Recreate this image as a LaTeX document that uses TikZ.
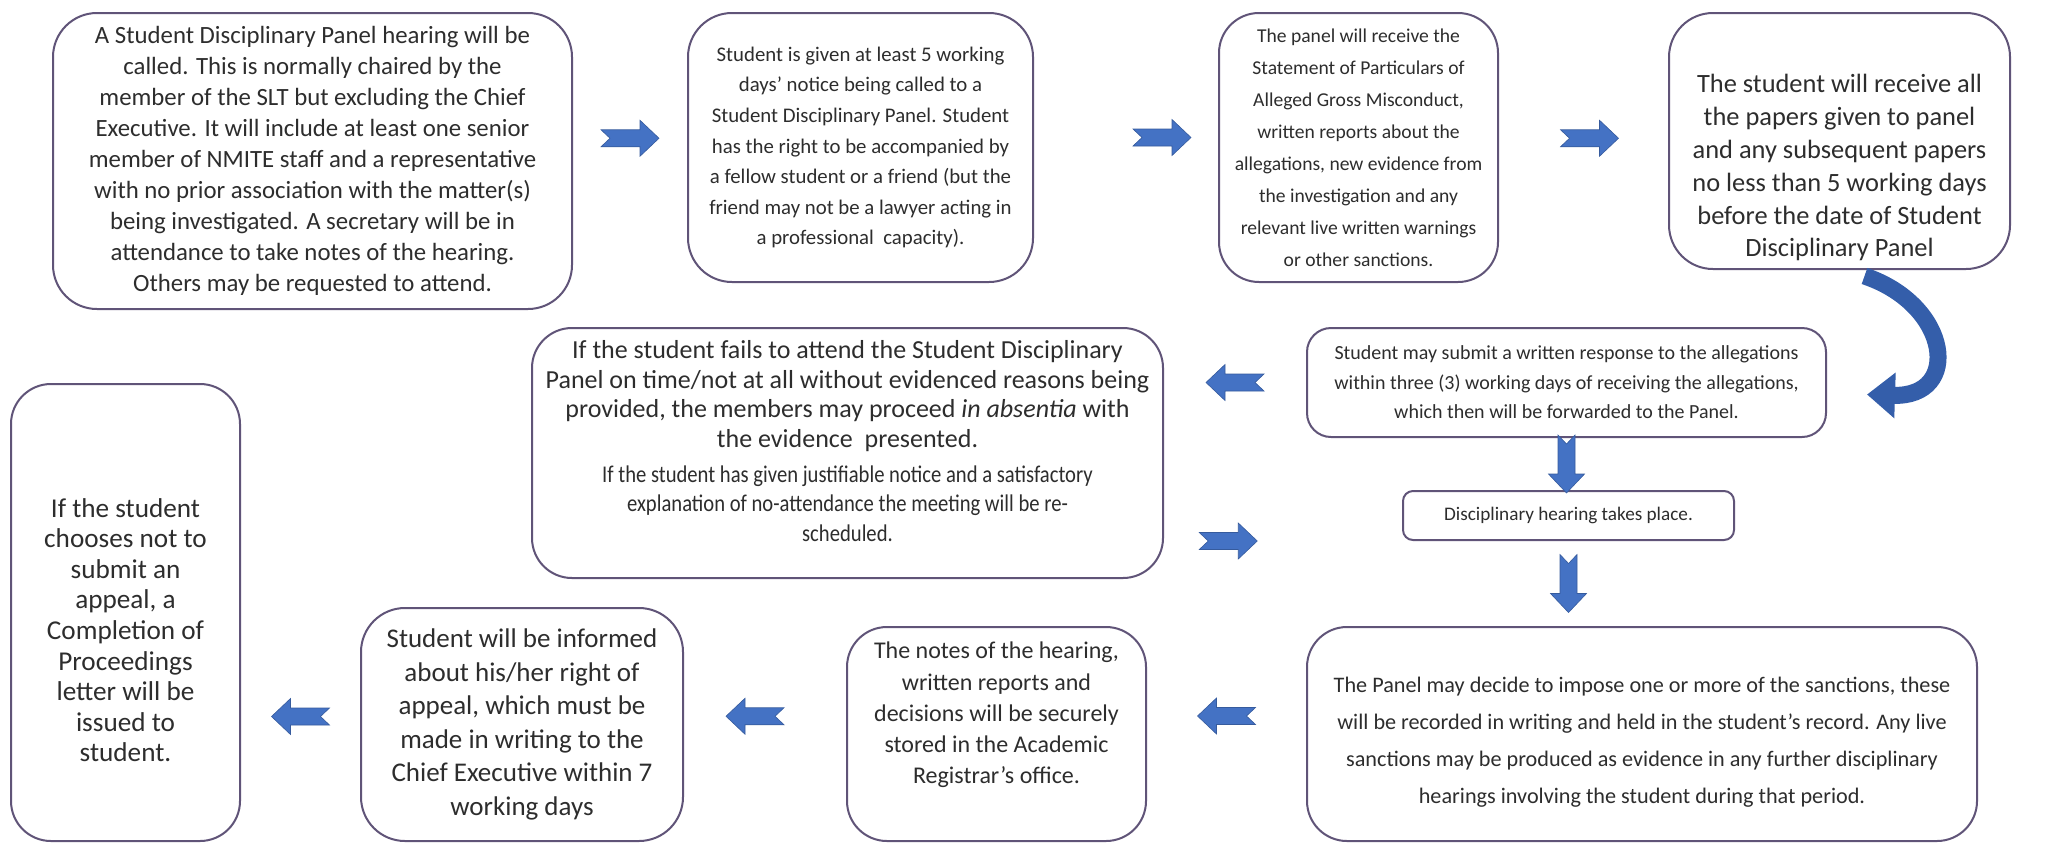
\documentclass[tikz,border=0pt]{standalone}
\usepackage{fontspec}
\setmainfont{Carlito}
\usetikzlibrary{positioning, calc, arrows.meta}
\definecolor{stepline}{RGB}{96, 84, 120}
\definecolor{stepink}{RGB}{45, 45, 45}
\definecolor{flowblue}{RGB}{68, 114, 196}
\definecolor{curlblue}{RGB}{52, 94, 170}
\newcommand{\squeezed}{\addfontfeatures{FakeStretch=0.86}\fontsize{12}{14.8}\selectfont}

\begin{document}
\begin{tikzpicture}[x=0.5pt, y=-0.5pt,
  stagebox/.style={draw=stepline, line width=1pt, fill=white, rounded corners=20pt, align=center, text=stepink, inner sep=2pt},
  boxsize/.style 2 args={minimum width={#1*0.5pt}, minimum height={#2*0.5pt}},
  notcharrow/.pic={\fill[flowblue, draw=flowblue!80!black, line width=0.3pt] (-29,-8.5) -- (10,-8.5) -- (10,-18) -- (29,0) -- (10,18) -- (10,8.5) -- (-29,8.5) -- (-20,0) -- cycle;}]
  \useasboundingbox[fill=white] (0,0) rectangle (2060,847);

  \node[stagebox, boxsize={519}{296}, rounded corners=22pt, font={\fontsize{12.4}{15.5}\selectfont}] (panel) at (312.5,161) {
    A Student Disciplinary Panel hearing will be\\
    called. This is normally chaired by the\\
    member of the SLT but excluding the Chief\\
    Executive. It will include at least one senior\\
    member of NMITE staff and a representative\\
    with no prior association with the matter(s)\\
    being investigated. A secretary will be in\\
    attendance to take notes of the hearing.\\
    Others may be requested to attend.};
  \node[stagebox, boxsize={345}{269}, rounded corners=22pt, font={\fontsize{10.4}{15.3}\selectfont}] (notice) at (860.5,147.5) {
    Student is given at least 5 working\\
    days’ notice being called to a\\
    Student Disciplinary Panel. Student\\
    has the right to be accompanied by\\
    a fellow student or a friend (but the\\
    friend may not be a lawyer acting in\\
    a professional\ \ capacity).};
  \node[stagebox, boxsize={279}{269}, font={\fontsize{9.8}{16}\selectfont}] (papers) at (1358.5,147.5) {
    The panel will receive the\\
    Statement of Particulars of\\
    Alleged Gross Misconduct,\\
    written reports about the\\
    allegations, new evidence from\\
    the investigation and any\\
    relevant live written warnings\\
    or other sanctions.};
  \node[stagebox, boxsize={341}{256}, rounded corners=22pt, font={\fontsize{13.2}{16.4}\selectfont}] (copies) at (1839.5,141) {
    \rule{0pt}{36pt}The student will receive all\\
    the papers given to panel\\
    and any subsequent papers\\
    no less than 5 working days\\
    before the date of Student\\
    Disciplinary Panel};

  \node[stagebox, boxsize={519}{109}, rounded corners=12pt, font={\fontsize{10}{14.8}\selectfont}] (response) at (1566.5,382.5) {
    Student may submit a written response to the allegations\\
    within three (3) working days of receiving the allegations,\\
    which then will be forwarded to the Panel.};
  \node[stagebox, boxsize={631}{250}, font={\fontsize{13}{14.7}\selectfont}] (absence) at (847.5,453) {
    If the student fails to attend the Student Disciplinary\\
    Panel on time/not at all without evidenced reasons being\\
    provided, the members may proceed \textit{in absentia} with\\
    the evidence\ \ presented.\\[3pt]
    \squeezed If the student has given justifiable notice and a satisfactory\\
    \squeezed explanation of no-attendance the meeting will be re-\\
    \squeezed scheduled.\rule[-12pt]{0pt}{0pt}};
  \node[stagebox, boxsize={331}{49}, rounded corners=5pt, font={\fontsize{9.6}{12}\selectfont}] (hearing) at (1568.5,515.5) {Disciplinary hearing takes place.};

  \node[stagebox, boxsize={670}{214}, font={\fontsize{11.1}{18.4}\selectfont}] (sanctions) at (1642,734) {
    \rule{0pt}{16pt}The Panel may decide to impose one or more of the sanctions, these\\
    will be recorded in writing and held in the student's record. Any live\\
    sanctions may be produced as evidence in any further disciplinary\\
    hearings involving the student during that period.};
  \node[stagebox, boxsize={299}{214}, font={\fontsize{12}{15.6}\selectfont}] (records) at (996.5,734) {
    The notes of the hearing,\\
    written reports and\\
    decisions will be securely\\
    stored in the Academic\\
    Registrar’s office.\rule[-21pt]{0pt}{0pt}};
  \node[stagebox, boxsize={322}{233}, rounded corners=22pt, font={\fontsize{13.5}{16.8}\selectfont}] (rights) at (522,724.5) {
    Student will be informed\\
    about his/her right of\\
    appeal, which must be\\
    made in writing to the\\
    Chief Executive within 7\\
    working days};
  \node[stagebox, boxsize={229}{457}, font={\fontsize{13.6}{15.3}\selectfont}] (closure) at (125.5,612.5) {
    \rule{0pt}{27pt}If the student\\
    chooses not to\\
    submit an\\
    appeal, a\\
    Completion of\\
    Proceedings\\
    letter will be\\
    issued to\\
    student.};

  \pic at ($(panel.east)!0.5!(notice.west)+(0,-16)$) {notcharrow};
  \pic at ($(notice.east)!0.5!(papers.west)+(36,-10)$) {notcharrow};
  \pic at ($(papers.east)!0.5!(copies.west)+(6,-6)$) {notcharrow};
  \draw[curlblue, line width=8.5pt, -{Triangle[width=22pt, length=14pt]}] ($(copies.south)+(25,6)$) .. controls ($(copies.south east)+(-60,35)$) and ($(response.east)+(135,15)$) .. ($(response.east)+(40,12)$);
  \pic[rotate=180] at ($(absence.east|-response.west)!0.5!(response.west)$) {notcharrow};
  \pic at ($(absence.east|-hearing.south)!0.27!(hearing.south west)$) {notcharrow};
  \pic[rotate=-90] at ($(response.south)!0.5!(response.south|-hearing.north)$) {notcharrow};
  \pic[rotate=-90] at ($(hearing.south)!0.5!(hearing.south|-sanctions.north)$) {notcharrow};
  \pic[rotate=180] at ($(sanctions.west)!0.5!(records.east)+(0,-18)$) {notcharrow};
  \pic[rotate=180] at ($(records.west)!0.5!(rights.east)+(-10,-13)$) {notcharrow};
  \pic[rotate=180] at ($(closure.east|-rights.west)!0.5!(rights.west)+(0,-8)$) {notcharrow};
\end{tikzpicture}
\end{document}
